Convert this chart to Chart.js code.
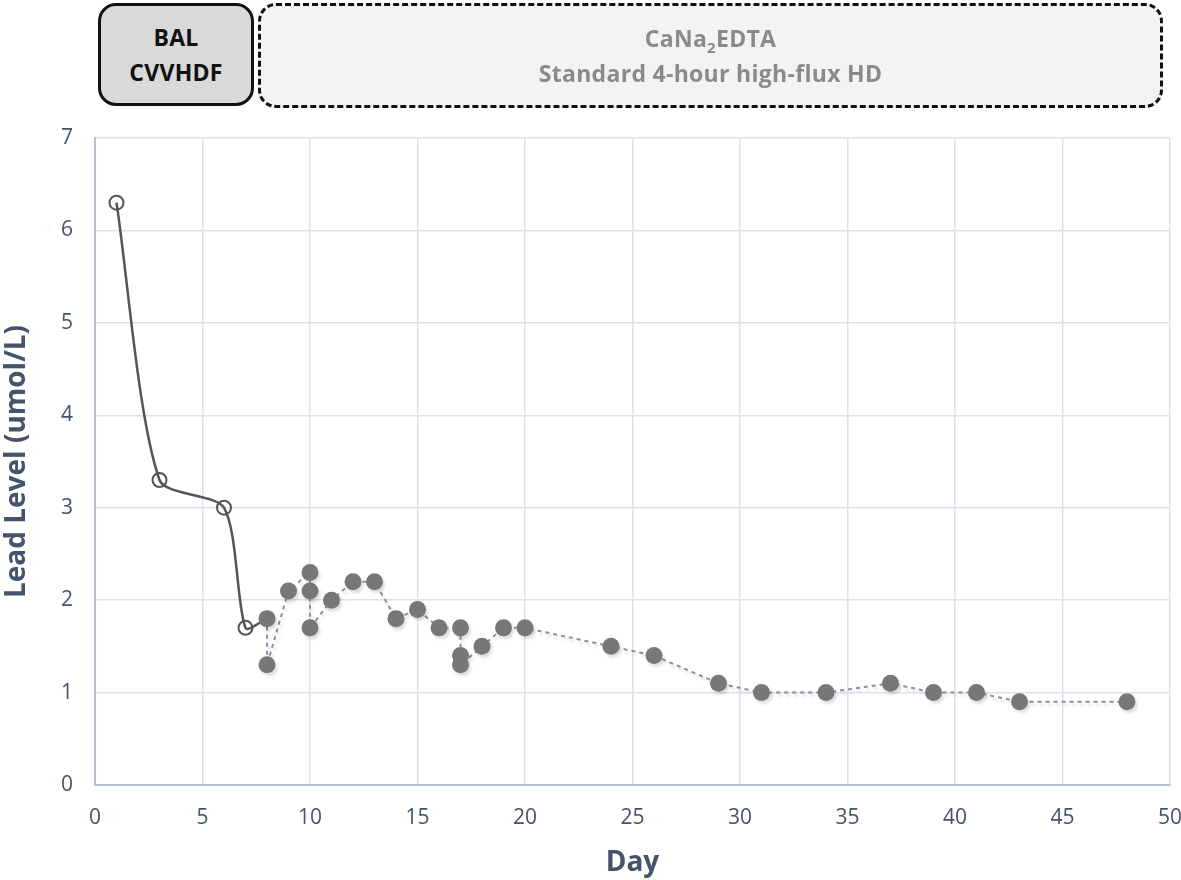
<!DOCTYPE html>
<html>
<head>
<meta charset="utf-8">
<script src="https://cdn.jsdelivr.net/npm/chart.js@4"></script>
<style>
  body { margin: 0; background: #fff; }
  .wrap { position: relative; width: 1181px; height: 880px; }
  canvas { position: absolute; left: 0; top: 0; }
  .box {
    position: absolute; box-sizing: border-box; display: flex;
    flex-direction: column; justify-content: center; align-items: center;
    font-family: "Open Sans", sans-serif; font-weight: bold; font-size: 23px; line-height: 35px;
    letter-spacing: 0.3px;
  }
  #bal { left: 98px; top: 3px; width: 156px; height: 103px; background: #d9d9d9;
    border: 3px solid #111; border-radius: 18px; color: #111; }
  #edta { left: 258px; top: 3px; width: 905px; height: 105px; background: #f3f3f3;
    border: 3px dashed #111; border-radius: 18px; color: #8a8a8a; }
  sub { font-size: 15px; line-height: 0; }
</style>
</head>
<body>
<div class="wrap">
  <canvas id="myChart" width="1181" height="880"></canvas>
  <div class="box" id="bal"><div>BAL</div><div>CVVHDF</div></div>
  <div class="box" id="edta"><div>CaNa<sub>2</sub>EDTA</div><div>Standard 4-hour high-flux HD</div></div>
</div>
<script>
// BAL + CVVHDF phase (solid line, open circles)
const solidDays = [1, 3, 6, 7, 8];
const solidLevels = [6.3, 3.3, 3.0, 1.7, 1.8];

// CaNa2EDTA + HD phase (dotted line, filled circles)
const dashedDays = [8, 8, 9, 10, 10, 10, 11, 12, 13, 14, 15, 16, 17, 17, 17, 18, 19, 20, 24, 26, 29, 31, 34, 37, 39, 41, 43, 48];
const dashedLevels = [1.8, 1.3, 2.1, 2.3, 2.1, 1.7, 2.0, 2.2, 2.2, 1.8, 1.9, 1.7, 1.7, 1.4, 1.3, 1.5, 1.7, 1.7, 1.5, 1.4, 1.1, 1.0, 1.0, 1.1, 1.0, 1.0, 0.9, 0.9];

const xTicks = [0, 5, 10, 15, 20, 25, 30, 35, 40, 45, 50];
const yTicks = [0, 1, 2, 3, 4, 5, 6, 7];

const textColor = "#44546a";
const gridColor = "#dde2ea";

const toPoints = (xs, ys) => xs.map((x, i) => ({ x: x, y: ys[i] }));

// soft shadow under the filled markers, like the original
const markerShadow = {
  id: "markerShadow",
  beforeDatasetDraw(chart, args) {
    if (args.index !== 0) return;
    const c = chart.ctx;
    c.save();
    c.shadowColor = "rgba(0,0,0,0.13)";
    c.shadowOffsetX = 2;
    c.shadowOffsetY = 3;
    c.shadowBlur = 3;
  },
  afterDatasetDraw(chart, args) {
    if (args.index !== 0) return;
    chart.ctx.restore();
  },
};

const ctx = document.getElementById("myChart").getContext("2d");

new Chart(ctx, {
  type: "line",
  plugins: [markerShadow],
  data: {
    datasets: [
      {
        data: toPoints(dashedDays, dashedLevels),
        borderColor: "#8490a3",
        borderWidth: 2,
        borderDash: [4, 4],
        tension: 0,
        pointRadius: 8.5,
        pointBackgroundColor: "#777777",
        pointBorderColor: "#777777",
        pointBorderWidth: 0,
      },
      {
        data: toPoints(solidDays, solidLevels),
        borderColor: "#555555",
        borderWidth: 2.5,
        tension: 0.25,
        pointRadius: [7, 7, 7, 7, 0],
        pointBackgroundColor: "rgba(255,255,255,0)",
        pointBorderColor: "#555555",
        pointBorderWidth: 2,
      },
    ],
  },
  options: {
    responsive: false,
    animation: false,
    layout: { padding: { top: 138, right: 11, left: 0, bottom: 0 } },
    plugins: { legend: { display: false }, tooltip: { enabled: false } },
    scales: {
      x: {
        type: "linear",
        min: 0,
        max: 50,
        afterBuildTicks: (scale) => { scale.ticks = xTicks.map((v) => ({ value: v })); },
        afterFit: (scale) => { scale.height = 95; scale.paddingLeft = 0; scale.paddingRight = 0; },
        grid: { color: gridColor, lineWidth: 1.5, drawTicks: false },
        border: { color: "#b4c0cf", width: 2 },
        ticks: { color: textColor, font: { family: "Open Sans", size: 21 }, padding: 20 },
        title: {
          display: true,
          text: "Day",
          color: textColor,
          font: { family: "Open Sans", size: 28, weight: "bold" },
          padding: { top: 0, bottom: 0 },
        },
      },
      y: {
        min: 0,
        max: 7,
        afterBuildTicks: (scale) => { scale.ticks = yTicks.map((v) => ({ value: v })); },
        afterFit: (scale) => { scale.width = 95; scale.paddingTop = 0; scale.paddingBottom = 0; },
        grid: { color: gridColor, lineWidth: 1.5, drawTicks: false },
        border: { color: "#b4c0cf", width: 2 },
        ticks: { color: textColor, font: { family: "Open Sans", size: 21 }, padding: 22 },
        title: {
          display: true,
          text: "Lead Level (umol/L)",
          color: textColor,
          font: { family: "Open Sans", size: 28, weight: "bold" },
          padding: { top: 0, bottom: 0 },
        },
      },
    },
  },
});
</script>
</body>
</html>
